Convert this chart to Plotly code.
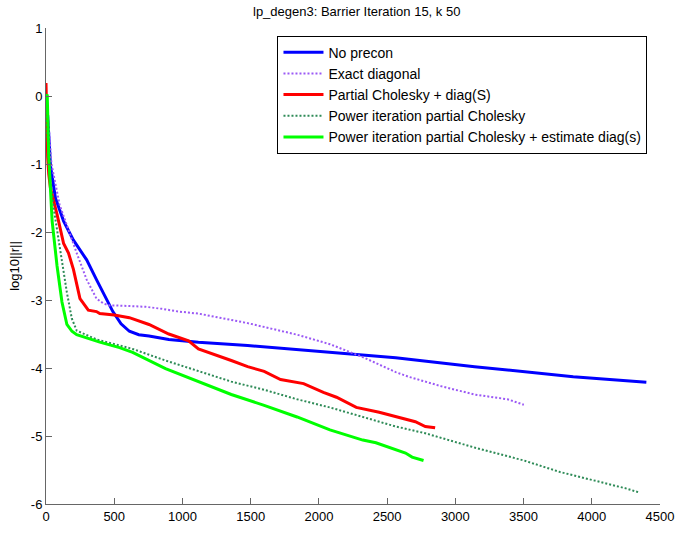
import plotly.graph_objects as go

# ---- data ----
blue_x = [12, 25, 33, 69, 129, 201, 298, 370, 430, 490, 550, 611, 680, 755, 900, 1045, 1117, 1478, 1840, 2201, 2563, 3141, 3500, 3864, 4400]
blue_y = [-0.28, -0.7, -1.03, -1.50, -1.84, -2.12, -2.41, -2.70, -2.93, -3.17, -3.35, -3.46, -3.51, -3.53, -3.58, -3.605, -3.62, -3.67, -3.73, -3.78, -3.85, -3.98, -4.05, -4.13, -4.21]

purple_x = [15, 40, 100, 160, 225, 298, 370, 420, 466, 515, 600, 731, 850, 972, 1117, 1334, 1478, 1840, 2081, 2322, 2563, 2659, 2900, 3141, 3382, 3502]
purple_y = [-0.3, -1.0, -1.6, -1.95, -2.31, -2.70, -2.98, -3.05, -3.08, -3.08, -3.09, -3.10, -3.13, -3.17, -3.20, -3.29, -3.34, -3.51, -3.65, -3.84, -4.06, -4.13, -4.27, -4.39, -4.46, -4.54]

red_x = [0, 5, 12, 20, 33, 81, 129, 165, 201, 249, 310, 370, 394, 500, 611, 755, 900, 1045, 1117, 1358, 1478, 1599, 1719, 1888, 2033, 2129, 2274, 2442, 2563, 2707, 2780, 2852]
red_y = [0.19, -0.4, -0.9, -1.15, -1.36, -1.74, -2.17, -2.31, -2.55, -2.98, -3.15, -3.17, -3.20, -3.22, -3.26, -3.36, -3.50, -3.60, -3.72, -3.89, -3.98, -4.05, -4.17, -4.23, -4.36, -4.43, -4.58, -4.65, -4.71, -4.79, -4.86, -4.88]

gdot_x = [0, 20, 60, 105, 153, 189, 225, 370, 490, 635, 876, 1117, 1358, 1599, 1840, 2081, 2322, 2563, 2780, 3141, 3502, 3768, 4009, 4249, 4346]
gdot_y = [0.0, -1.0, -1.7, -2.31, -2.89, -3.27, -3.45, -3.58, -3.64, -3.72, -3.89, -4.05, -4.20, -4.32, -4.46, -4.58, -4.72, -4.86, -4.96, -5.17, -5.36, -5.53, -5.65, -5.77, -5.83]

green_x = [0, 9, 20, 45, 81, 117, 153, 190, 225, 300, 394, 539, 635, 876, 1117, 1358, 1599, 1840, 2081, 2322, 2418, 2539, 2635, 2683, 2767]
green_y = [0.0, 0.02, -0.88, -1.84, -2.50, -3.03, -3.36, -3.46, -3.51, -3.56, -3.62, -3.70, -3.77, -4.01, -4.20, -4.39, -4.55, -4.72, -4.91, -5.06, -5.10, -5.18, -5.25, -5.31, -5.36]

names = ["No precon", "Exact diagonal", "Partial Cholesky + diag(S)",
         "Power iteration partial Cholesky",
         "Power iteration partial Cholesky + estimate diag(s)"]

x_ticks = [0, 500, 1000, 1500, 2000, 2500, 3000, 3500, 4000, 4500]
y_ticks = [1, 0, -1, -2, -3, -4, -5, -6]

FONT = "Liberation Sans, Arial, sans-serif"

fig = go.Figure()
fig.add_trace(go.Scatter(x=blue_x, y=blue_y, mode="lines", name=names[0],
                         line=dict(color="#0000FF", width=3)))
fig.add_trace(go.Scatter(x=purple_x, y=purple_y, mode="lines", name=names[1],
                         line=dict(color="#9B59F5", width=2, dash="2px,2px")))
fig.add_trace(go.Scatter(x=red_x, y=red_y, mode="lines", name=names[2],
                         line=dict(color="#FF0000", width=3)))
fig.add_trace(go.Scatter(x=gdot_x, y=gdot_y, mode="lines", name=names[3],
                         line=dict(color="#2E8B57", width=2, dash="2px,2px")))
fig.add_trace(go.Scatter(x=green_x, y=green_y, mode="lines", name=names[4],
                         line=dict(color="#00FF00", width=3)))

fig.update_layout(
    width=686, height=536,
    margin=dict(l=46, r=18, t=28, b=18, pad=0),
    paper_bgcolor="white", plot_bgcolor="white",
    font=dict(family=FONT, size=13, color="black"),
    title=dict(text="lp_degen3: Barrier Iteration 15, k 50", x=0.52, xanchor="center",
               y=0.979, yanchor="middle", yref="container",
               font=dict(family=FONT, size=13, color="black")),
    showlegend=True,
    legend=dict(x=0.377, y=0.984, xanchor="left", yanchor="top",
                bordercolor="black", borderwidth=1, bgcolor="white",
                font=dict(family=FONT, size=14, color="black"),
                tracegroupgap=0, itemwidth=40),
    xaxis=dict(range=[0, 4500], tickvals=x_ticks, ticktext=[str(v) for v in x_ticks],
               showgrid=False, zeroline=False, showline=True, linecolor="#666666",
               linewidth=1, ticks="inside", ticklen=6, tickcolor="#666666",
               mirror=False, fixedrange=True),
    yaxis=dict(range=[-6, 1], tickvals=y_ticks, ticktext=[str(v) for v in y_ticks],
               showgrid=False, zeroline=False, showline=True, linecolor="#666666",
               linewidth=1, ticks="inside", ticklen=6, tickcolor="#666666",
               mirror=False, fixedrange=True,
               title=dict(text="log10||r||", standoff=8,
                          font=dict(family=FONT, size=13, color="black"))),
)

fig.write_html("out.html")
